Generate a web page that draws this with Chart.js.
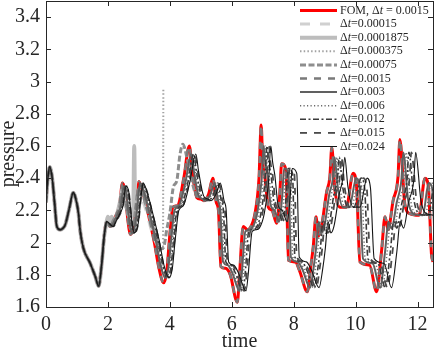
<!DOCTYPE html>
<html>
<head>
<meta charset="utf-8">
<script src="https://cdn.jsdelivr.net/npm/chart.js@4.4.1/dist/chart.umd.min.js"></script>
<style>
  html, body { margin: 0; padding: 0; background: #fff; }
</style>
</head>
<body>
<canvas id="chart" width="436" height="351"></canvas>
<script>
// Shared start of every run (all curves sit on top of each other here)
const earlyT = [0.00, 0.05, 0.12, 0.20, 0.28, 0.35, 0.46, 0.55, 0.62, 0.75, 0.88, 0.95, 1.05, 1.10, 1.20, 1.43, 1.59, 1.70, 1.80, 1.88, 1.96];
const earlyP = [2.25, 2.38, 2.47, 2.40, 2.24, 2.10, 2.08, 2.09, 2.11, 2.21, 2.31, 2.28, 2.18, 2.08, 1.97, 1.87, 1.79, 1.73, 1.87, 2.04, 2.13];

// FOM (also Δt=0.0015, which lies on it)
const fomT = [2.07, 2.18, 2.29, 2.38, 2.47, 2.55, 2.65, 2.73, 2.85, 2.95,
  3.00, 3.10, 3.30, 3.50, 3.65, 3.80, 3.90, 4.00, 4.10, 4.25,
  4.45, 4.63, 4.72, 4.87, 5.00, 5.10, 5.25, 5.39, 5.50, 5.57,
  5.65, 5.80, 5.95, 6.18, 6.25, 6.37, 6.50, 6.59, 6.75, 6.88,
  6.95, 7.00, 7.07, 7.18, 7.30, 7.45, 7.55, 7.61, 7.75, 7.83,
  8.05, 8.20, 8.44, 8.55, 8.63, 8.72, 8.80, 8.90, 9.06, 9.17,
  9.23, 9.33, 9.49, 9.70, 9.92, 10.03, 10.14, 10.45, 10.68, 10.84,
  10.95, 11.05, 11.21, 11.37, 11.43, 11.59, 11.75, 12.05, 12.24, 12.35,
  12.45, 12.50];
const fomP = [2.10, 2.14, 2.18, 2.24, 2.37, 2.32, 2.13, 2.05, 2.12, 2.30,
  2.38, 2.33, 2.18, 2.00, 1.84, 1.75, 1.82, 2.05, 2.22, 2.23,
  2.40, 2.60, 2.45, 2.28, 2.27, 2.26, 2.30, 2.40, 2.25, 2.20,
  1.85, 1.84, 1.80, 1.63, 1.80, 2.10, 2.08, 2.09, 2.18, 2.40,
  2.73, 2.50, 2.41, 2.22, 2.20, 2.12, 2.30, 2.49, 2.45, 1.89,
  1.88, 1.82, 1.695, 1.85, 1.97, 2.16, 2.04, 2.10, 2.31, 2.41,
  2.59, 2.33, 2.22, 2.22, 2.43, 2.35, 1.88, 1.86, 1.695, 1.95,
  2.16, 2.08, 2.26, 2.41, 2.64, 2.24, 2.18, 2.17, 2.40, 2.35,
  1.93, 1.88];

// Pressure of the larger-step runs (they trail the FOM, slightly flattened)
const lagP = [2.10, 2.14, 2.18, 2.23, 2.35, 2.32, 2.14, 2.06, 2.12, 2.30,
  2.37, 2.33, 2.18, 2.01, 1.86, 1.78, 1.84, 2.03, 2.20, 2.23,
  2.38, 2.55, 2.44, 2.29, 2.27, 2.26, 2.30, 2.37, 2.26, 2.20,
  1.88, 1.86, 1.81, 1.70, 1.80, 2.07, 2.08, 2.09, 2.18, 2.38,
  2.60, 2.50, 2.42, 2.23, 2.20, 2.13, 2.29, 2.46, 2.43, 1.91,
  1.88, 1.83, 1.72, 1.84, 1.96, 2.13, 2.06, 2.10, 2.30, 2.39,
  2.53, 2.35, 2.22, 2.22, 2.40, 2.34, 1.90, 1.87, 1.72, 1.94,
  2.13, 2.09, 2.25, 2.39, 2.56, 2.26, 2.18, 2.17, 2.37, 2.34,
  1.95, 1.90];

const t003 = [2.11, 2.22, 2.33, 2.42, 2.51, 2.59, 2.69, 2.77, 2.89, 2.99,
  3.04, 3.14, 3.35, 3.55, 3.70, 3.85, 3.95, 4.05, 4.15, 4.30,
  4.51, 4.69, 4.78, 4.93, 5.06, 5.16, 5.31, 5.45, 5.56, 5.63,
  5.72, 5.87, 6.02, 6.25, 6.32, 6.44, 6.57, 6.66, 6.82, 6.96,
  7.03, 7.08, 7.15, 7.26, 7.38, 7.53, 7.63, 7.69, 7.83, 7.91,
  8.13, 8.29, 8.53, 8.64, 8.72, 8.81, 8.89, 8.99, 9.15, 9.26,
  9.32, 9.42, 9.59, 9.80, 10.02, 10.13, 10.24, 10.55, 10.79, 10.95,
  11.06, 11.16, 11.33, 11.48, 11.54, 11.70, 11.86, 12.17, 12.36, 12.47,
  12.57, 12.62];
const t006 = [2.13, 2.24, 2.35, 2.44, 2.54, 2.62, 2.72, 2.80, 2.92, 3.02,
  3.07, 3.17, 3.38, 3.58, 3.73, 3.88, 3.99, 4.09, 4.19, 4.34,
  4.54, 4.73, 4.82, 4.97, 5.10, 5.20, 5.35, 5.50, 5.61, 5.68,
  5.76, 5.91, 6.06, 6.30, 6.37, 6.49, 6.62, 6.71, 6.87, 7.01,
  7.08, 7.13, 7.20, 7.31, 7.43, 7.58, 7.69, 7.75, 7.89, 7.97,
  8.19, 8.35, 8.59, 8.70, 8.78, 8.87, 8.95, 9.06, 9.22, 9.33,
  9.39, 9.49, 9.65, 9.87, 10.09, 10.20, 10.31, 10.63, 10.86, 11.02,
  11.13, 11.24, 11.40, 11.56, 11.62, 11.78, 11.95, 12.25, 12.44, 12.55,
  12.65, 12.71];
const t012 = [2.16, 2.27, 2.38, 2.47, 2.56, 2.65, 2.75, 2.83, 2.95, 3.06,
  3.11, 3.21, 3.41, 3.62, 3.77, 3.92, 4.03, 4.13, 4.23, 4.38,
  4.59, 4.77, 4.86, 5.02, 5.15, 5.25, 5.41, 5.55, 5.66, 5.73,
  5.81, 5.97, 6.12, 6.36, 6.43, 6.55, 6.68, 6.78, 6.94, 7.07,
  7.14, 7.19, 7.27, 7.38, 7.50, 7.65, 7.76, 7.82, 7.96, 8.04,
  8.27, 8.42, 8.67, 8.78, 8.86, 8.95, 9.03, 9.14, 9.30, 9.41,
  9.47, 9.58, 9.74, 9.95, 10.18, 10.29, 10.40, 10.72, 10.96, 11.12,
  11.23, 11.33, 11.50, 11.66, 11.72, 11.89, 12.05, 12.36, 12.55, 12.66,
  12.76, 12.81];
const t015 = [2.18, 2.29, 2.40, 2.49, 2.58, 2.67, 2.77, 2.86, 2.98, 3.08,
  3.13, 3.24, 3.44, 3.65, 3.80, 3.96, 4.06, 4.16, 4.27, 4.42,
  4.63, 4.81, 4.90, 5.06, 5.19, 5.29, 5.45, 5.59, 5.70, 5.78,
  5.86, 6.01, 6.17, 6.40, 6.48, 6.60, 6.73, 6.83, 6.99, 7.12,
  7.20, 7.25, 7.32, 7.43, 7.55, 7.71, 7.81, 7.87, 8.02, 8.10,
  8.33, 8.48, 8.73, 8.84, 8.92, 9.01, 9.10, 9.20, 9.36, 9.48,
  9.54, 9.64, 9.81, 10.02, 10.25, 10.36, 10.47, 10.79, 11.03, 11.19,
  11.31, 11.41, 11.57, 11.74, 11.80, 11.97, 12.13, 12.44, 12.63, 12.75,
  12.85, 12.90];
const t024 = [2.17, 2.28, 2.39, 2.49, 2.58, 2.67, 2.77, 2.85, 2.98, 3.08,
  3.14, 3.24, 3.45, 3.66, 3.81, 3.97, 4.08, 4.18, 4.29, 4.44,
  4.65, 4.84, 4.93, 5.09, 5.23, 5.33, 5.49, 5.63, 5.75, 5.82,
  5.90, 6.06, 6.22, 6.46, 6.53, 6.66, 6.79, 6.89, 7.05, 7.19,
  7.26, 7.32, 7.39, 7.50, 7.63, 7.79, 7.89, 7.95, 8.10, 8.18,
  8.41, 8.57, 8.82, 8.94, 9.02, 9.11, 9.20, 9.30, 9.47, 9.58,
  9.65, 9.75, 9.92, 10.14, 10.37, 10.48, 10.60, 10.92, 11.16, 11.33,
  11.44, 11.55, 11.71, 11.88, 11.94, 12.11, 12.28, 12.59, 12.79, 12.91,
  13.01, 13.06];

// The small-step runs that go unstable and stop
const t00015 = [2.02, 2.08, 2.15, 2.25, 2.35, 2.45, 2.55, 2.65, 2.75, 2.85, 2.95, 3.05, 3.20, 3.40, 3.60, 3.72];
const p00015 = [2.14, 2.16, 2.12, 2.15, 2.18, 2.28, 2.24, 2.18, 2.14, 2.18, 2.22, 2.28, 2.22, 2.08, 1.98, 1.96];
const t0001875 = [2.00, 2.06, 2.12, 2.20, 2.30, 2.40, 2.47, 2.55, 2.65, 2.75, 2.82, 2.85, 2.88, 2.95, 3.00];
const p0001875 = [2.16, 2.12, 2.16, 2.12, 2.18, 2.26, 2.33, 2.24, 2.20, 2.16, 2.22, 2.60, 2.18, 2.22, 2.26];
const t000375 = [2.07, 2.18, 2.29, 2.38, 2.47, 2.55, 2.65, 2.75, 2.85, 2.95, 3.05, 3.20, 3.40, 3.60, 3.72, 3.78, 3.79];
const p000375 = [2.10, 2.14, 2.18, 2.22, 2.33, 2.28, 2.16, 2.10, 2.15, 2.28, 2.32, 2.24, 2.12, 2.00, 1.96, 1.96, 2.96];
const t00075 = [2.07, 2.18, 2.29, 2.38, 2.47, 2.55, 2.65, 2.75, 2.85, 2.95, 3.05, 3.20, 3.40, 3.55, 3.70, 3.80, 3.90, 4.00, 4.12, 4.22, 4.33, 4.42, 4.55, 4.66, 4.80, 4.95];
const p00075 = [2.10, 2.14, 2.18, 2.22, 2.34, 2.30, 2.15, 2.08, 2.14, 2.30, 2.34, 2.25, 2.12, 2.03, 1.96, 1.97, 2.08, 2.18, 2.35, 2.38, 2.55, 2.61, 2.53, 2.43, 2.32, 2.28];

const labels = ['FOM, Δt = 0.0015', 'Δt=0.00015', 'Δt=0.0001875', 'Δt=0.000375', 'Δt=0.00075',
  'Δt=0.0015', 'Δt=0.003', 'Δt=0.006', 'Δt=0.012', 'Δt=0.015', 'Δt=0.024'];

const xTicks = [0, 2, 4, 6, 8, 10, 12];
const yTicks = [1.6, 1.8, 2.0, 2.2, 2.4, 2.6, 2.8, 3.0, 3.2, 3.4];
const yTickLabels = ['1.6', '1.8', '2', '2.2', '2.4', '2.6', '2.8', '3', '3.2', '3.4'];

const SERIF = "'Liberation Serif', 'DejaVu Serif', serif";
const INK = '#262626';

function series(tArr, pArr) {
  const head = earlyT.map((t, i) => ({ x: t, y: earlyP[i] }));
  return head.concat(tArr.map((t, i) => ({ x: t, y: pArr[i] })));
}

const runs = [
  { data: series(fomT, fomP), color: '#ff0000', width: 3, dash: [] },
  { data: series(t00015, p00015), color: '#d0d0d0', width: 3, dash: [10, 10] },
  { data: series(t0001875, p0001875), color: '#bdbdbd', width: 4, dash: [] },
  { data: series(t000375, p000375), color: '#a3a3a3', width: 2, dash: [1.5, 2.2] },
  { data: series(t00075, p00075), color: '#8e8e8e', width: 3, dash: [6, 2.5] },
  { data: series(fomT, fomP), color: '#7a7a7a', width: 2.5, dash: [7, 7] },
  { data: series(t003, lagP), color: '#606060', width: 2, dash: [] },
  { data: series(t006, lagP), color: '#6a6a6a', width: 1.5, dash: [1.2, 2.3] },
  { data: series(t012, lagP), color: '#3a3a3a', width: 1.6, dash: [6, 2.5, 2, 2.5] },
  { data: series(t015, lagP), color: '#4a4a4a', width: 1.8, dash: [7, 7] },
  { data: series(t024, lagP), color: '#141414', width: 1.1, dash: [] }
];

// box + inward ticks on all four sides
const boxPlugin = {
  id: 'box',
  afterDatasetsDraw(chart) {
    const { ctx, chartArea: a, scales } = chart;
    ctx.save();
    ctx.strokeStyle = INK;
    ctx.lineWidth = 1;
    ctx.beginPath();
    xTicks.forEach(v => {
      const x = Math.round(scales.x.getPixelForValue(v)) + 0.5;
      ctx.moveTo(x, a.bottom); ctx.lineTo(x, a.bottom - 5);
      ctx.moveTo(x, a.top); ctx.lineTo(x, a.top + 5);
    });
    yTicks.forEach(v => {
      const y = Math.round(scales.y.getPixelForValue(v)) + 0.5;
      ctx.moveTo(a.left, y); ctx.lineTo(a.left + 5, y);
      ctx.moveTo(a.right, y); ctx.lineTo(a.right - 5, y);
    });
    ctx.stroke();
    ctx.strokeRect(Math.round(a.left) + 0.5, Math.round(a.top) + 0.5,
      Math.round(a.right - a.left), Math.round(a.bottom - a.top));
    ctx.restore();
  }
};

// MATLAB-style legend, no frame, in the top right corner
const legendPlugin = {
  id: 'runLegend',
  afterDraw(chart) {
    const ctx = chart.ctx;
    ctx.save();
    ctx.textBaseline = 'middle';
    ctx.fillStyle = INK;
    chart.data.datasets.forEach((ds, i) => {
      const y = 10.5 + i * 13.6;
      ctx.beginPath();
      ctx.strokeStyle = ds.borderColor;
      ctx.lineWidth = ds.borderWidth;
      ctx.setLineDash(ds.borderDash);
      ctx.moveTo(300, y);
      ctx.lineTo(337, y);
      ctx.stroke();
      ctx.setLineDash([]);
      const k = ds.label.indexOf('Δ');
      let x = 340;
      const parts = [
        [ds.label.slice(0, k + 1), ''],
        ['t', 'italic '],
        [ds.label.slice(k + 2), '']
      ];
      parts.forEach(([txt, style]) => {
        ctx.font = style + '12px ' + SERIF;
        ctx.fillText(txt, x, y);
        x += ctx.measureText(txt).width;
      });
    });
    ctx.restore();
  }
};

new Chart(document.getElementById('chart'), {
  type: 'line',
  data: {
    datasets: runs.map((r, i) => ({
      label: labels[i],
      data: r.data,
      borderColor: r.color,
      borderWidth: r.width,
      borderDash: r.dash,
      pointRadius: 0,
      fill: false,
      cubicInterpolationMode: 'monotone',
      order: runs.length - i
    }))
  },
  options: {
    responsive: false,
    animation: false,
    layout: { padding: { top: 1, right: 3, left: 0, bottom: 0 } },
    plugins: { legend: { display: false }, tooltip: { enabled: false } },
    scales: {
      x: {
        type: 'linear',
        min: 0,
        max: 12.5,
        afterBuildTicks: s => { s.ticks = xTicks.map(v => ({ value: v })); },
        afterFit: s => { s.height = 44; s.paddingLeft = 0; s.paddingRight = 0; },
        grid: { display: false, drawTicks: false },
        border: { display: false },
        ticks: { padding: 6, color: INK, font: { family: SERIF, size: 20 }, maxRotation: 0, autoSkip: false,
          callback: v => String(v) },
        title: { display: true, text: 'time', color: INK, padding: 0,
          font: { family: SERIF, size: 20, lineHeight: 0.9 } }
      },
      y: {
        type: 'linear',
        min: 1.6,
        max: 3.5,
        afterBuildTicks: s => { s.ticks = yTicks.map(v => ({ value: v })); },
        afterFit: s => { s.width = 46; s.paddingTop = 0; s.paddingBottom = 0; },
        grid: { display: false, drawTicks: false },
        border: { display: false },
        ticks: { padding: 6, color: INK, font: { family: SERIF, size: 20 }, autoSkip: false,
          callback: (v, i) => yTickLabels[i] },
        title: { display: true, text: 'pressure', color: INK, padding: 0,
          font: { family: SERIF, size: 20, lineHeight: 0.85 } }
      }
    }
  },
  plugins: [boxPlugin, legendPlugin]
});
</script>
</body>
</html>
